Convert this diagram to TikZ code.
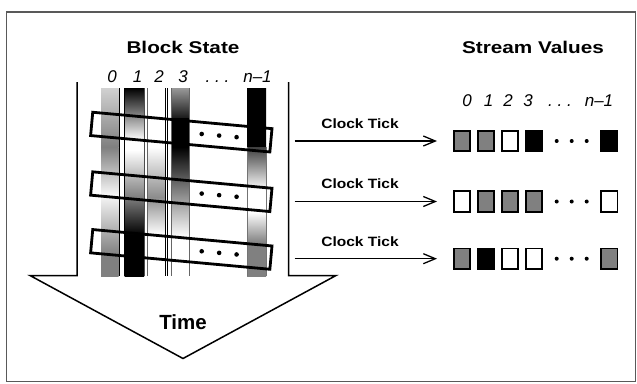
\documentclass[tikz,border=0pt]{standalone}
\usepackage{fontspec}
\setmainfont{Liberation Sans}
\usetikzlibrary{arrows.meta}
\begin{document}
\begin{tikzpicture}[x=1pt,y=-1pt,
  title/.style={font=\fontsize{17}{17}\selectfont\bfseries, inner sep=0pt},
  idx/.style={font=\fontsize{17}{17}\selectfont\itshape, inner sep=0pt, anchor=base},
  ticklbl/.style={font=\fontsize{13.5}{13.5}\selectfont\bfseries, inner sep=0pt},
  slot/.style={draw, line width=2.8pt},
  val/.style={draw, line width=1.8pt, minimum width=16.5pt, minimum height=20.5pt, inner sep=0pt},
  gv/.style={val, fill=black!50}, wv/.style={val, fill=white}, bv/.style={val, fill=black},
  clk/.style={-{Straight Barb[length=12pt,width=10pt,line width=1.3pt]}, line width=1.3pt},
  blob/.style={circle, fill=black, inner sep=0pt, minimum size=4.6pt},
  timearrow/.style={line width=1.5pt, line join=miter},
  sepline/.style={line width=0.8pt},
  frameline/.style={draw=black!65, line width=1.2pt}
]
\useasboundingbox (0,0) rectangle (637,383);
\draw[frameline] (6.5,12) rectangle (635.5,381.5);

% bars (gradients)
\foreach \xa/\xb/\ya/\yb/\ct/\cb in {
  101/118.5/88/147/black!18/black!50,
  101/118.5/147/195/black!50/black!3,
  101/118.5/195/255/black!3/black!50,
  101/118.5/255/276/black!50/black!50,
  124.5/144/88/140/black/white,
  124.5/144/140/150/white/white,
  124.5/144/150/197/white/black!50,
  124.5/144/197/235/black!50/black,
  124.5/144/235/276/black/black,
  147/165.5/147/197/white/black!45,
  147/165.5/197/235/black!45/white,
  171/189.5/88/118/black!40/black!90,
  171/189.5/118/147/black/black,
  171/189.5/147/195/black/black!45,
  171/189.5/195/235/black!45/black!3,
  247/266/88/147/black/black,
  247/266/147/190/black!75/white,
  247/266/212/243/white/black!50,
  247/266/243/276/black!50/black!50}
  \shade[top color=\ct, bottom color=\cb] (\xa,\ya) rectangle (\xb,\yb);

% thin separator lines
\foreach \xx/\cc in {119.3/black, 124.3/black, 144.4/black!70, 146.9/black!60, 165.4/black, 167.8/black, 171/black!60, 189.5/black!60}
  \draw[sepline, draw=\cc] (\xx,88) -- (\xx,276);
\foreach \xx in {247.3, 266}
  \draw[sepline, draw=black!55] (\xx,147) -- (\xx,276);

% time arrow outline
\draw[timearrow] (77,82) -- (77,275.5) -- (30,275.5) -- (183,358.5) -- (336,275.5) -- (288.7,275.5) -- (288.7,82);
\node[title, font=\fontsize{20.5}{20.5}\selectfont\bfseries] (time) at (183,321.7) {Time};

% titles
\node[title] (bs) at (183,47) {\scalebox{1.22}[1]{Block State}};
\node[title] (sv) at (533,47.5) {\scalebox{1.22}[1]{Stream Values}};

% indices left
\node[idx] (l0) at (112,82.3) {0};
\node[idx] (l1) at (137.5,82.3) {1};
\node[idx] (l2) at (159,82.3) {2};
\node[idx] (l3) at (183,82.3) {3};
\node[idx] (ld) at (217.5,82.3) {.\ .\ .};
\node[idx] (ln) at (257.5,82.3) {n–1};
% indices right
\node[idx] (r0) at (467,106.7) {0};
\node[idx] (r1) at (488.5,106.7) {1};
\node[idx] (r2) at (508,106.7) {2};
\node[idx] (r3) at (528,106.7) {3};
\node[idx] (rd) at (560,106.7) {.\ .\ .};
\node[idx] (rn) at (599,106.7) {n–1};

% slanted boxes with dots
\foreach \cy/\nm in {132.1/a, 191.7/b, 249.4/c} {
  \begin{scope}[shift={(181.3,\cy)}, rotate=-5.23]
    \draw[slot] (-90,-11.7) rectangle (90,11.7);
    \node[blob] (d1\nm) at (20.5,0) {};
    \node[blob] (d2\nm) at (38,0) {};
    \node[blob] (d3\nm) at (55.5,0) {};
  \end{scope}
}

% stream value rows
\foreach \ry/\nm/\sa/\sb/\sc/\sd/\se in {141/p/gv/gv/wv/bv/bv, 201.5/q/wv/gv/gv/gv/wv, 258.7/r/gv/bv/wv/wv/gv} {
  \node[\sa] (v1\nm) at (462,\ry) {};
  \node[\sb] (v2\nm) at (486,\ry) {};
  \node[\sc] (v3\nm) at (510,\ry) {};
  \node[\sd] (v4\nm) at (534,\ry) {};
  \node[blob, minimum size=4pt] (e1\nm) at (556.7,\ry) {};
  \node[blob, minimum size=4pt] (e2\nm) at (571.7,\ry) {};
  \node[blob, minimum size=4pt] (e3\nm) at (586.7,\ry) {};
  \node[\se] (v5\nm) at (609.2,\ry) {};
  \coordinate (s\nm) at (294.5,\ry);
  \coordinate (t\nm) at (437,\ry);
  \draw[clk] (s\nm) -- (t\nm);
  \node[ticklbl] (k\nm) at (360,\ry-17.5) {\scalebox{1.15}[1]{Clock Tick}};
}
\end{tikzpicture}
\end{document}
